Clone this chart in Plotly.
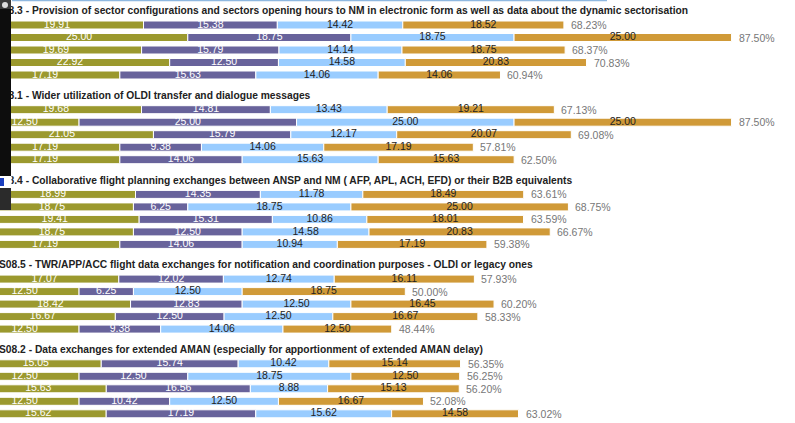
import plotly.graph_objects as go

titles = [
    "S08.3 - Provision of sector configurations and sectors opening hours to NM in electronic form as well as data about the dynamic sectorisation",
    "S08.1 - Wider utilization of OLDI transfer and dialogue messages",
    "S08.4 - Collaborative flight planning exchanges between ANSP and NM ( AFP, APL, ACH, EFD) or their B2B equivalents",
    "S08.5 - TWR/APP/ACC flight data exchanges for notification and coordination purposes - OLDI or legacy ones",
    "S08.2 - Data exchanges for extended AMAN (especially for apportionment of extended AMAN delay)",
]

seg1 = [[19.91, 25.00, 19.69, 22.92, 17.19],
        [19.68, 12.50, 21.05, 17.19, 17.19],
        [18.99, 18.75, 19.41, 18.75, 17.19],
        [17.07, 12.50, 18.42, 16.67, 12.50],
        [15.05, 12.50, 15.63, 12.50, 15.62]]
seg2 = [[15.38, 18.75, 15.79, 12.50, 15.63],
        [14.81, 25.00, 15.79, 9.38, 14.06],
        [14.35, 6.25, 15.31, 12.50, 14.06],
        [12.02, 6.25, 12.83, 12.50, 9.38],
        [15.74, 12.50, 16.56, 10.42, 17.19]]
seg3 = [[14.42, 18.75, 14.14, 14.58, 14.06],
        [13.43, 25.00, 12.17, 14.06, 15.63],
        [11.78, 18.75, 10.86, 14.58, 10.94],
        [12.74, 12.50, 12.50, 12.50, 14.06],
        [10.42, 18.75, 8.88, 12.50, 15.62]]
seg4 = [[18.52, 25.00, 18.75, 20.83, 14.06],
        [19.21, 25.00, 20.07, 17.19, 15.63],
        [18.49, 25.00, 18.01, 20.83, 17.19],
        [16.11, 18.75, 16.45, 16.67, 12.50],
        [15.14, 12.50, 15.13, 16.67, 14.58]]
totals = [[68.23, 87.50, 68.37, 70.83, 60.94],
          [67.13, 87.50, 69.08, 57.81, 62.50],
          [63.61, 68.75, 63.59, 66.67, 59.38],
          [57.93, 50.00, 60.20, 58.33, 48.44],
          [56.35, 56.25, 56.20, 52.08, 63.02]]

colors = ["#9B992E", "#68639B", "#99CCFF", "#D09A38"]
text_colors = ["#FFFFFF", "#FFFFFF", "#222222", "#222222"]
FONT = "Liberation Sans, Arial, sans-serif"

W, H = 795, 423
PX_PER_UNIT = 8.70
X0_PX = -29.7  # pixel where value 0 sits (chart is cropped on the left)
x_lo = -X0_PX / PX_PER_UNIT
x_hi = x_lo + W / PX_PER_UNIT

GROUP_TOP = 11.6
GROUP_STEP = 84.7
ROW_OFF = 13.4
ROW_STEP = 12.5
TITLE_PX = [-4, -4, -4, -1, -1]  # horizontal pixel start of each group title

ys, title_ys = [], []
for g in range(len(titles)):
    ty = GROUP_TOP + GROUP_STEP * g
    title_ys.append(ty)
    for r in range(5):
        ys.append(ty + ROW_OFF + ROW_STEP * r)

segs = [seg1, seg2, seg3, seg4]
flat = [[v for grp in s for v in grp] for s in segs]
flat_tot = [v for grp in totals for v in grp]

fig = go.Figure()
bases = [0.0] * len(ys)
for k in range(4):
    vals = flat[k]
    fig.add_trace(go.Bar(
        orientation="h", y=ys, x=vals, base=bases[:], width=8,
        marker=dict(color=colors[k], line=dict(color="#FFFFFF", width=1)),
        hoverinfo="skip", showlegend=False,
    ))
    mids = [b + v / 2 for b, v in zip(bases, vals)]
    fig.add_trace(go.Scatter(
        x=mids, y=ys, mode="text", text=[f"{v:.2f}" for v in vals],
        textposition="middle center",
        textfont=dict(family=FONT, size=10.5, color=text_colors[k]),
        hoverinfo="skip", showlegend=False,
    ))
    bases = [b + v for b, v in zip(bases, vals)]

# group titles as clipped text (so the cropping overlay can sit on top of them)
fig.add_trace(go.Scatter(
    x=[x_lo + p / PX_PER_UNIT for p in TITLE_PX], y=title_ys, mode="text",
    text=[f"<b>{t}</b>" for t in titles], textposition="middle right",
    textfont=dict(family=FONT, size=10.25, color="#222222"),
    hoverinfo="skip", showlegend=False, cliponaxis=True,
))

annotations = []
for y, t in zip(ys, flat_tot):
    annotations.append(dict(
        x=t, y=y, xref="x", yref="y", text=f"{t:.2f}%", showarrow=False,
        xanchor="left", yanchor="middle", xshift=5,
        font=dict(family=FONT, size=10.5, color="#777777"),
    ))

shapes = [
    dict(type="rect", xref="paper", yref="y", x0=0, x1=11 / W, y0=0, y1=176,
         fillcolor="#0d0d0d", line=dict(width=0), layer="above"),
    dict(type="rect", xref="paper", yref="y", x0=0, x1=11 / W, y0=0, y1=9,
         fillcolor="#3a3a3a", line=dict(width=0), layer="above"),
    dict(type="circle", xref="paper", yref="y", x0=2 / W, x1=8 / W, y0=2, y1=8,
         fillcolor="#dddddd", line=dict(width=0), layer="above"),
    dict(type="rect", xref="paper", yref="y", x0=0, x1=11.5 / W, y0=176, y1=188,
         fillcolor="#FFFFFF", line=dict(width=0), layer="above"),
    dict(type="rect", xref="paper", yref="y", x0=0, x1=4 / W, y0=178, y1=186,
         fillcolor="#1b3fbf", line=dict(width=0), layer="above"),
    dict(type="rect", xref="paper", yref="y", x0=0, x1=11 / W, y0=188, y1=210,
         fillcolor="#2b2b2b", line=dict(width=0), layer="above"),
    dict(type="rect", xref="paper", yref="y", x0=12 / W, x1=607 / W, y0=0, y1=1.2,
         fillcolor="#8fb8e0", line=dict(width=0), layer="above"),
]

fig.update_layout(
    width=W, height=H, margin=dict(l=0, r=0, t=0, b=0),
    paper_bgcolor="#FFFFFF", plot_bgcolor="#FFFFFF",
    barmode="overlay", showlegend=False,
    xaxis=dict(range=[x_lo, x_hi], visible=False, fixedrange=True),
    yaxis=dict(range=[H, 0], visible=False, fixedrange=True),
    annotations=annotations, shapes=shapes,
)

fig.write_html(
    "out.html",
    config={"displayModeBar": False},
    post_script="document.body.style.margin='0px';document.body.style.overflow='hidden';",
)
